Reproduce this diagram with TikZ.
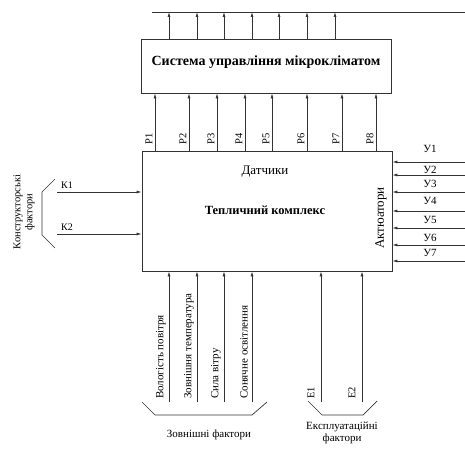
\documentclass[tikz,border=0pt]{standalone}
\usepackage{fontspec}
\setmainfont{Liberation Serif}
\usetikzlibrary{arrows.meta}
\begin{document}
\begin{tikzpicture}[x=1pt,y=-1pt,
  line/.style={draw=black!80,line width=0.7pt},
  arr/.style={line,-{Latex[length=5pt,width=3pt]}},
  box/.style={draw=black!80,line width=0.8pt,rectangle,inner sep=0pt},
  lbl/.style={font=\fontsize{11}{12}\selectfont,inner sep=1pt},
  vlbl/.style={font=\fontsize{10.5}{11}\selectfont,inner sep=1pt,rotate=90},
  lab/.style={font=\fontsize{11}{12}\selectfont,inner sep=1pt,align=center}]
\useasboundingbox (0,0) rectangle (465,449);
% boxes
\node[box,minimum width=250pt,minimum height=54pt] (scm) at (266,66) {};
\node[font=\bfseries\fontsize{14}{15}\selectfont] (scmt) at (266,62) {Система управління мікрокліматом};
\node[box,minimum width=250pt,minimum height=120pt] (tk) at (267,211) {};
\node[lab,font=\fontsize{13}{14}\selectfont] (dat) at (265,172) {Датчики};
\node[lab,font=\bfseries\fontsize{12.5}{14}\selectfont] (tkt) at (265,210) {Тепличний комплекс};
\node[lab,rotate=90,font=\fontsize{13}{14}\selectfont] (akt) at (381,218) {Актюатори};
% top output line
\coordinate (tl) at (152,12);
\coordinate (tr) at (465,12);
\draw[line] (tl) -- (tr);
\foreach \x [count=\i] in {169,197,224,252,279,307,335}{
  \coordinate (o\i) at (\x,12);
  \draw[arr] (o\i |- scm.north) -- (o\i);
}
% P arrows
\foreach \x [count=\i] in {155,189,217,245,272,307,342,376}{
  \coordinate (p\i) at (\x,151);
  \draw[arr] (p\i |- tk.north) -- (p\i |- scm.south);
  \node[vlbl] (pl\i) at (\x-6,139) {P\i};
}
% Y arrows
\foreach \y/\ly [count=\i] in {162/149,175/170,192/184,211/201,228/220,245/238,261/253}{
  \coordinate (y\i) at (465,\y);
  \draw[arr] (y\i) -- (y\i -| tk.east);
  \node[lbl] (yl\i) at (430,\ly) {У\i};
}
% K arrows
\foreach \y/\ly [count=\i] in {192/185,234/227}{
  \coordinate (k\i) at (57,\y);
  \draw[arr] (k\i) -- (k\i -| tk.west);
  \node[lbl,font=\fontsize{10}{11}\selectfont] (kl\i) at (67,\ly) {К\i};
}
\coordinate (kb1) at (55,179);
\coordinate (kb2) at (42,192);
\coordinate (kb3) at (42,235);
\coordinate (kb4) at (55,248);
\draw[line] (kb1) -- (kb2) -- (kb3) -- (kb4);
\node[lab,rotate=90,align=center,font=\fontsize{10.5}{12}\selectfont] (kf) at (24,212) {Конструкторські\\фактори};
% bottom external factors
\foreach \x/\t [count=\i] in {169/Вологість повітря,197/Зовнішня температура,224/Сила вітру,252/Сонячне освітлення}{
  \coordinate (b\i) at (\x,402);
  \draw[arr] (b\i) -- (b\i |- tk.south);
  \node[vlbl,anchor=west,font=\fontsize{11}{12}\selectfont] (bl\i) at (\x-8,400) {\t};
}
\coordinate (zb1) at (142,402);
\coordinate (zb2) at (155,415);
\coordinate (zb3) at (252,415);
\coordinate (zb4) at (267,402);
\draw[line] (zb1) -- (zb2) -- (zb3) -- (zb4);
\node[lab] (zf) at (209,435) {Зовнішні фактори};
% E arrows
\foreach \x [count=\i] in {321,362}{
  \coordinate (e\i) at (\x,402);
  \draw[arr] (e\i) -- (e\i |- tk.south);
  \node[vlbl] (el\i) at (\x-10,393) {Е\i};
}
\coordinate (eb1) at (308,401);
\coordinate (eb2) at (322,415);
\coordinate (eb3) at (363,415);
\coordinate (eb4) at (377,401);
\draw[line] (eb1) -- (eb2) -- (eb3) -- (eb4);
\node[lab] (ef) at (342,433) {Експлуатаційні\\фактори};
\end{tikzpicture}
\end{document}
